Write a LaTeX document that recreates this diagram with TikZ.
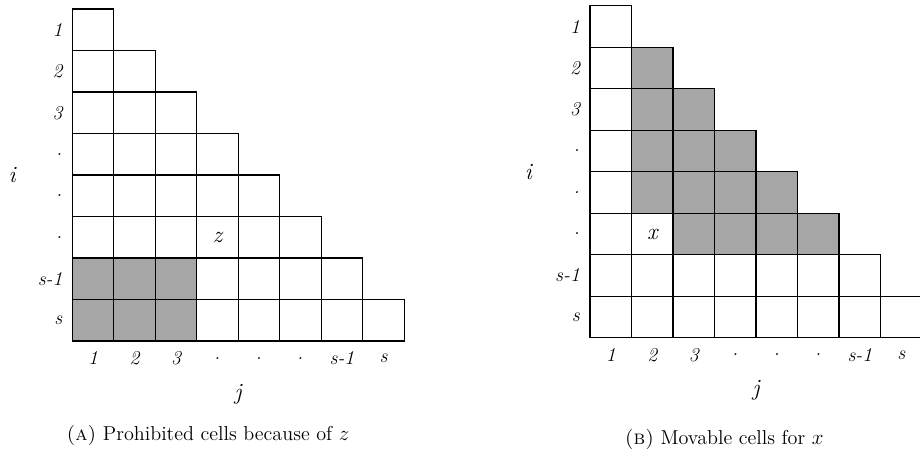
\documentclass[tikz,border=0pt]{standalone}
\usetikzlibrary{positioning}
\begin{document}
\begin{tikzpicture}[
cell/.style={draw,line width=0.9pt,minimum size=1cm,inner sep=0pt,outer sep=0pt},
shaded/.style={cell,fill=black!35},
idx/.style={font=\fontsize{13.5}{15}\selectfont\itshape,inner sep=0pt},
axis/.style={font=\fontsize{16}{18}\selectfont\itshape,inner sep=0pt},
entry/.style={font=\fontsize{16}{18}\selectfont\itshape,inner sep=0pt},
caption/.style={font=\fontsize{13.8}{16}\selectfont,inner sep=0pt}
]
\useasboundingbox (0,0) rectangle (22.17,10.89);

% left: prohibited cells
\foreach \r in {1,...,8}
  \foreach \c in {1,...,\r}
    \node[cell] (L-\r-\c) at (1.74+\c-0.5, 2.67+8-\r+0.5) {};
\foreach \r in {7,8}
  \foreach \c in {1,2,3}
    \node[shaded] at (L-\r-\c) {};
\node[entry] (L-z) at (L-6-4) {z};
\foreach \r/\lab in {1/1,2/2,3/3,4/.,5/.,6/.,7/s-1,8/s}
  \node[idx,anchor=east] at ([xshift=-0.23cm]L-\r-1.west) {\lab};
\foreach \c/\lab in {1/1,2/2,3/3,4/.,5/.,6/.,7/s-1,8/s}
  \node[idx] at ([yshift=-0.41cm]L-8-\c.south) {\lab};
\node[axis] (L-i) at ([xshift=-1.45cm]L-4-1.south west) {i};
\node[axis] (L-j) at ([yshift=-1.27cm]L-8-4.south east) {j};
\node[caption] (L-cap) at (5.01,0.4) {{\scshape(a)} Prohibited cells because of $z$};

% right: movable cells
\foreach \r in {1,...,8}
  \foreach \c in {1,...,\r}
    \node[cell] (R-\r-\c) at (14.22+\c-0.5, 2.75+8-\r+0.5) {};
\foreach \r in {2,...,6}
  \foreach \c in {2,...,\r}
    \node[shaded] at (R-\r-\c) {};
\node[cell,fill=white] (R-x) at (R-6-2) {};
\node[entry] at (R-x) {x};
\foreach \r/\lab in {1/1,2/2,3/3,4/.,5/.,6/.,7/s-1,8/s}
  \node[idx,anchor=east] at ([xshift=-0.24cm]R-\r-1.west) {\lab};
\foreach \c/\lab in {1/1,2/2,3/3,4/.,5/.,6/.,7/s-1,8/s}
  \node[idx] at ([yshift=-0.41cm]R-8-\c.south) {\lab};
\node[axis] (R-i) at ([xshift=-1.49cm]R-4-1.south west) {i};
\node[axis] (R-j) at ([yshift=-1.27cm]R-8-4.south east) {j};
\node[caption] (R-cap) at (17.45,0.3) {{\scshape(b)} Movable cells for $x$};
\end{tikzpicture}
\end{document}
